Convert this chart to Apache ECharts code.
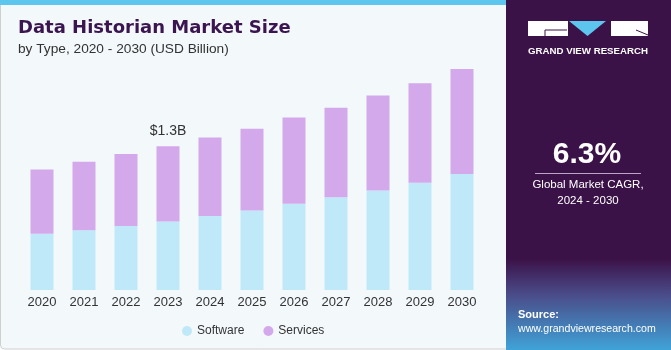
<!DOCTYPE html>
<html>
<head>
<meta charset="utf-8">
<script src="https://cdn.jsdelivr.net/npm/echarts@6/dist/echarts.min.js"></script>
<style>
  html, body { margin: 0; padding: 0; background: #fff; }
  #chart { width: 671px; height: 350px; }
</style>
</head>
<body>
<div id="chart"></div>
<script>
// years on the x axis
const years = ['2020', '2021', '2022', '2023', '2024', '2025', '2026', '2027', '2028', '2029', '2030'];
// USD billion
const software = [0.51, 0.54, 0.58, 0.62, 0.67, 0.72, 0.78, 0.84, 0.90, 0.97, 1.05];
const services = [0.58, 0.62, 0.65, 0.68, 0.71, 0.74, 0.78, 0.81, 0.86, 0.90, 0.95];
const labelYear = '2023';
const labelText = '$1.3B';

const font = 'Liberation Sans';
const myChart = echarts.init(document.getElementById('chart'), null, { renderer: 'canvas' });

const option = {
  animation: false,
  textStyle: { fontFamily: font },
  grid: { left: 21, width: 462, top: 69, bottom: 60, containLabel: false },
  xAxis: {
    type: 'category',
    data: years,
    axisLine: { show: false },
    axisTick: { show: false },
    axisLabel: { color: '#333', fontSize: 13, margin: 6, fontFamily: font }
  },
  yAxis: {
    type: 'value',
    min: 0,
    max: 2.0,
    show: false,
    splitLine: { show: false }
  },
  legend: {
    data: ['Software', 'Services'],
    left: 177,
    top: 320,
    icon: 'circle',
    itemWidth: 10,
    itemHeight: 10,
    itemGap: 19,
    textStyle: { color: '#333', fontSize: 12, fontFamily: font }
  },
  series: [
    {
      name: 'Software',
      type: 'bar',
      stack: 'total',
      barWidth: 23,
      data: software,
      itemStyle: { color: '#bfe9f9' }
    },
    {
      name: 'Services',
      type: 'bar',
      stack: 'total',
      barWidth: 23,
      data: services.map((v, i) => ({
        value: v,
        label: {
          show: years[i] === labelYear,
          position: 'top',
          distance: 8,
          formatter: labelText,
          color: '#333',
          fontSize: 14,
          fontFamily: font
        }
      })),
      itemStyle: { color: '#d4a9ec' }
    }
  ],
  graphic: [
    // left panel background
    { type: 'rect', z: -10, shape: { x: 0.5, y: 0, width: 520, height: 349, r: 4 },
      style: { fill: '#f3f8fb', stroke: '#cfcfcf', lineWidth: 1 } },
    // top blue stripe
    { type: 'rect', z: -9, shape: { x: 0, y: 0, width: 510, height: 5 }, style: { fill: '#5cc6ef' } },
    // title
    { type: 'text', left: 18, top: 19,
      style: { text: 'Data Historian Market Size', fill: '#3a1550', font: 'bold 18px "DejaVu Sans"' } },
    { type: 'text', left: 18, top: 42,
      style: { text: 'by Type, 2020 - 2030 (USD Billion)', fill: '#333', font: '13.7px "Liberation Sans"' } },
    // right panel
    { type: 'rect', z: 5, shape: { x: 506, y: 0, width: 165, height: 350 },
      style: {
        fill: new echarts.graphic.LinearGradient(0, 0, 0, 1, [
          { offset: 0, color: '#3b1248' },
          { offset: 0.74, color: '#3b1248' },
          { offset: 0.84, color: '#4a4b88' },
          { offset: 1, color: '#3fa3d8' }
        ])
      } },
    // logo
    { type: 'rect', z: 6, shape: { x: 528, y: 21, width: 40, height: 15 }, style: { fill: '#fff' } },
    { type: 'polyline', z: 7, shape: { points: [[567, 30], [545, 30], [545, 36]] },
      style: { stroke: '#3b1248', lineWidth: 1, fill: null } },
    { type: 'polygon', z: 6, shape: { points: [[569, 21], [606, 21], [587.5, 36]] }, style: { fill: '#5cc6ef' } },
    { type: 'rect', z: 6, shape: { x: 611, y: 21, width: 37, height: 15 }, style: { fill: '#fff' } },
    { type: 'line', z: 7, shape: { x1: 636, y1: 30, x2: 648, y2: 35 },
      style: { stroke: '#3b1248', lineWidth: 1 } },
    { type: 'text', z: 6, left: 528, top: 46,
      style: { text: 'GRAND VIEW RESEARCH', fill: '#fff', font: 'bold 9.7px "Liberation Sans"' } },
    // CAGR block
    { type: 'text', z: 6, x: 587, y: 155,
      style: { text: '6.3%', fill: '#fff', font: 'bold 30px "Liberation Sans"', align: 'center', verticalAlign: 'middle' } },
    { type: 'line', z: 6, shape: { x1: 535, y1: 173.5, x2: 641, y2: 173.5 },
      style: { stroke: '#b9a4c6', lineWidth: 1 } },
    { type: 'text', z: 6, x: 588, y: 185,
      style: { text: 'Global Market CAGR,', fill: '#fff', font: '11.5px "Liberation Sans"', align: 'center', verticalAlign: 'middle' } },
    { type: 'text', z: 6, x: 588, y: 201,
      style: { text: '2024 - 2030', fill: '#fff', font: '11.5px "Liberation Sans"', align: 'center', verticalAlign: 'middle' } },
    // source
    { type: 'text', z: 6, left: 518, top: 309,
      style: { text: 'Source:', fill: '#fff', font: 'bold 11px "Liberation Sans"' } },
    { type: 'text', z: 6, left: 518, top: 324,
      style: { text: 'www.grandviewresearch.com', fill: '#fff', font: '10.6px "Liberation Sans"' } }
  ]
};

myChart.setOption(option);
</script>
</body>
</html>
